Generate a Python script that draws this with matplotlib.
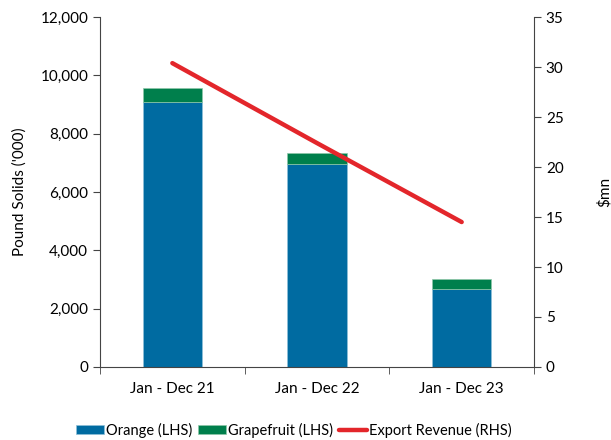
import matplotlib
matplotlib.use("Agg")
import matplotlib.pyplot as plt
from matplotlib.ticker import FuncFormatter, FixedLocator
import numpy as np

periods = ["Jan - Dec 21", "Jan - Dec 22", "Jan - Dec 23"]
orange = [9095, 6950, 2675]
grapefruit = [460, 375, 352]
export_revenue = [30.4, 22.4, 14.5]

plt.rcParams["font.family"] = ["Lato", "DejaVu Sans"]
plt.rcParams["font.size"] = 11

BLUE = "#006BA1"
GREEN = "#007F4C"
RED = "#E3262B"
AXIS = "#444444"

fig = plt.figure(figsize=(6.11, 4.40), dpi=100)
ax = fig.add_axes([0.1637, 0.166, 0.7103, 0.795])
x = np.arange(len(periods))

b1 = ax.bar(x, orange, width=0.41, color=BLUE, edgecolor="#8fc0d8", linewidth=0.5,
            label="Orange (LHS)", zorder=2)
b2 = ax.bar(x, grapefruit, bottom=orange, width=0.41, color=GREEN, edgecolor="#8fc8a8",
            linewidth=0.5, label="Grapefruit (LHS)", zorder=2)

ax.set_xlim(-0.5, 2.5)
ax.set_ylim(0, 12000)
ax.set_yticks(np.arange(0, 12001, 2000))
ax.yaxis.set_major_formatter(FuncFormatter(lambda v, p: f"{int(v):,}"))
ax.set_xticks(x)
ax.set_xticklabels(periods)
ax.xaxis.set_minor_locator(FixedLocator([-0.5, 0.5, 1.5, 2.5]))
ax.tick_params(axis="x", which="major", length=0, pad=11)
ax.tick_params(axis="x", which="minor", length=5, color=AXIS)
ax.tick_params(axis="y", length=5, color=AXIS)
ax.set_ylabel("Pound Solids ('000)", labelpad=10)
for s in ["top", "right"]:
    ax.spines[s].set_visible(False)
ax.spines["left"].set_color(AXIS)
ax.spines["bottom"].set_color(AXIS)

ax2 = ax.twinx()
ln, = ax2.plot(x, export_revenue, color=RED, linewidth=3.2, solid_capstyle="round",
               label="Export Revenue (RHS)", zorder=3)
ax2.set_ylim(0, 35)
ax2.set_yticks(np.arange(0, 36, 5))
ax2.tick_params(axis="y", length=5, color=AXIS)
ax2.set_ylabel("$mn", labelpad=24)
for s in ["top", "left", "bottom"]:
    ax2.spines[s].set_visible(False)
ax2.spines["right"].set_color(AXIS)

fig.legend(handles=[b1, b2, ln], loc="center", bbox_to_anchor=(0.481, 0.0227),
           ncol=3, frameon=False, handlelength=1.9, handleheight=0.6,
           handletextpad=0.15, columnspacing=0.4, fontsize=10.5)

fig.savefig("out.png", dpi=100)
